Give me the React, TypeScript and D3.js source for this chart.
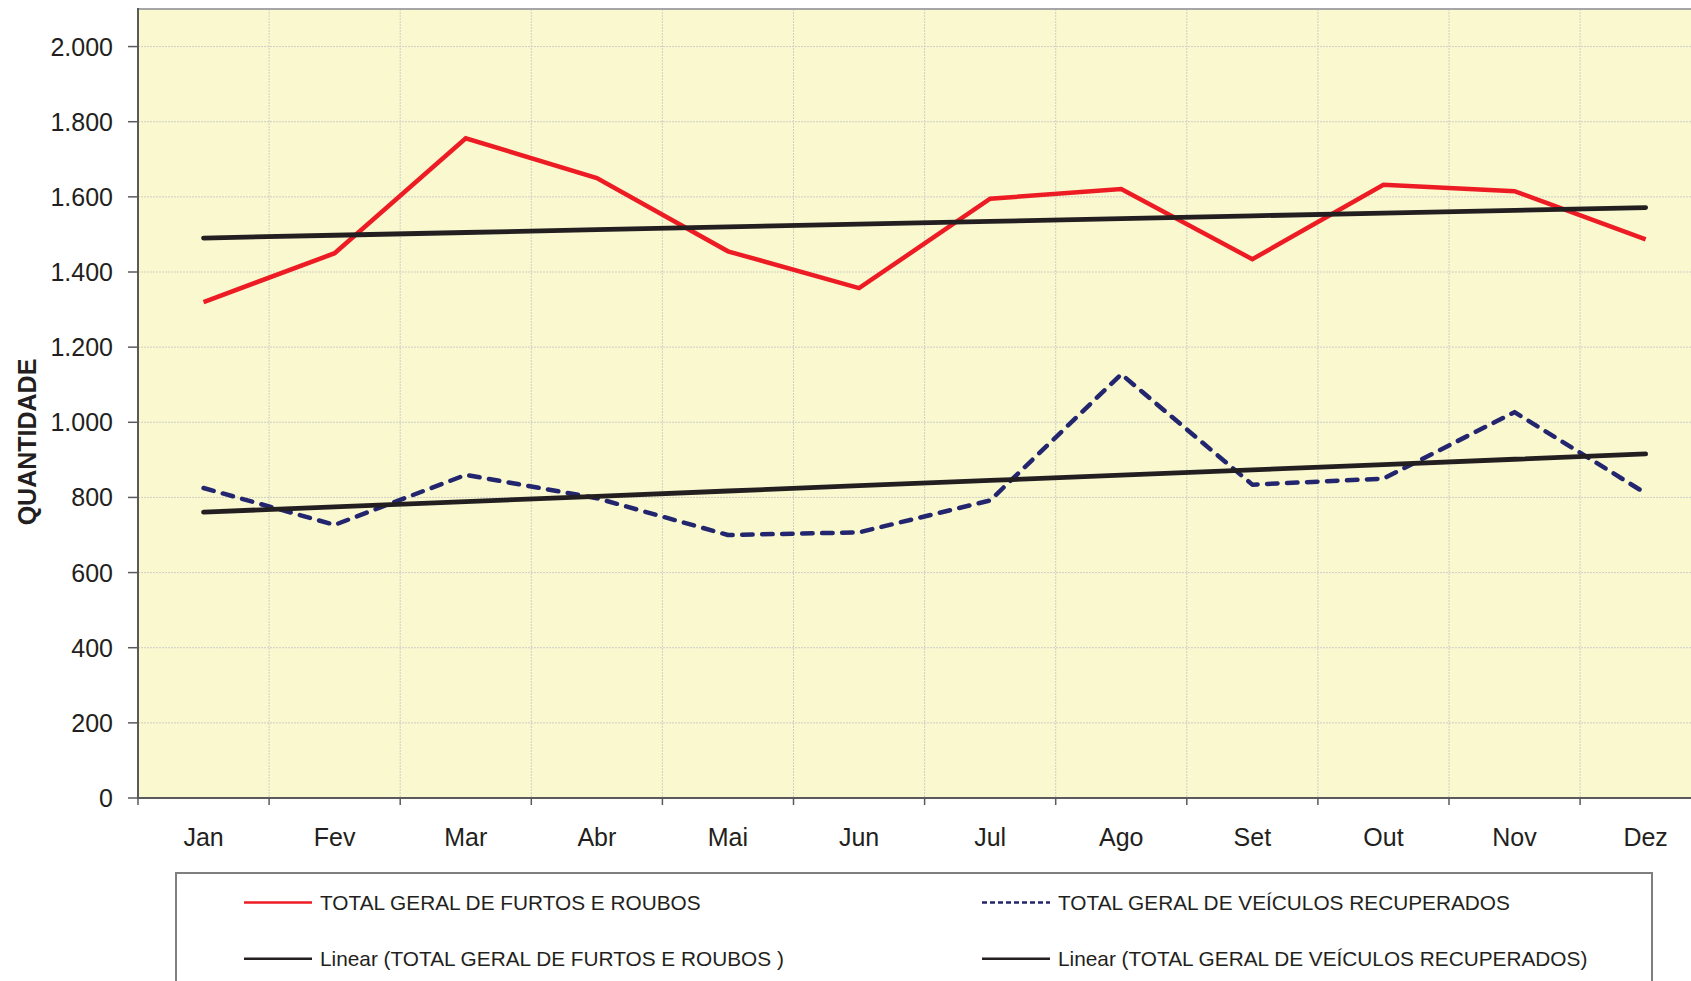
import React from "react";
import * as d3 from "d3";

const months = ["Jan", "Fev", "Mar", "Abr", "Mai", "Jun", "Jul", "Ago", "Set", "Out", "Nov", "Dez"];
const furtosRoubos = [1320, 1450, 1756, 1650, 1455, 1357, 1595, 1621, 1434, 1632, 1615, 1487];
const recuperados = [825, 727, 860, 798, 700, 707, 792, 1128, 834, 850, 1027, 811];
const yTicks = [0, 200, 400, 600, 800, 1000, 1200, 1400, 1600, 1800, 2000];
const legendLabels = [
  "TOTAL GERAL DE FURTOS E ROUBOS",
  "TOTAL GERAL DE VEÍCULOS RECUPERADOS",
  "Linear (TOTAL GERAL DE FURTOS E ROUBOS )",
  "Linear (TOTAL GERAL DE VEÍCULOS RECUPERADOS)",
];
const yTitle = "QUANTIDADE";

const W = 1691;
const H = 981;
const L = 138;
const T = 9;
const B = 798;
const BAND = 131.1;
const R = L + BAND * months.length;

const TEXT = "#231f20";
const RED = "#ed1c24";
const BLUE = "#23266e";
const BLACK = "#231f20";
const FONT = "'Liberation Sans', Arial, sans-serif";

function linearFit(vals: number[]) {
  const n = vals.length;
  const mx = (n - 1) / 2;
  const my = d3.mean(vals) as number;
  let sxy = 0;
  let sxx = 0;
  vals.forEach((v, i) => {
    sxy += (i - mx) * (v - my);
    sxx += (i - mx) * (i - mx);
  });
  const slope = sxy / sxx;
  return vals.map((_, i) => my + slope * (i - mx));
}

export default function App() {
  const x = d3.scaleBand<string>().domain(months).range([L, R]).padding(0);
  const y = d3.scaleLinear().domain([0, 2100]).range([B, T]);
  const cx = (m: string) => (x(m) as number) + x.bandwidth() / 2;

  const line = d3
    .line<number>()
    .x((_, i) => cx(months[i]))
    .y((v) => y(v));

  const trendRed = linearFit(furtosRoubos);
  const trendBlue = linearFit(recuperados);

  const boundaries = months.map((m) => x(m) as number).concat([R]);

  const legendItems = [
    { label: legendLabels[0], x: 244, y: 902.6, color: RED, dash: null },
    { label: legendLabels[1], x: 982, y: 902.6, color: BLUE, dash: "5 3" },
    { label: legendLabels[2], x: 244, y: 958.7, color: BLACK, dash: null },
    { label: legendLabels[3], x: 982, y: 958.7, color: BLACK, dash: null },
  ];

  const grid = "#cfcfc8";

  return (
    <svg
      width={W}
      height={H}
      style={{ position: "absolute", left: 0, top: 0, display: "block", background: "#fff" }}
      fontFamily={FONT}
    >
      <rect x={0} y={0} width={W} height={H} fill="#ffffff" />
      <rect x={L} y={T} width={R - L} height={B - T} fill="#f9f8cf" />
      {yTicks
        .filter((t) => t > 0)
        .map((t) => (
          <line
            key={"hg" + t}
            x1={L}
            x2={R}
            y1={y(t)}
            y2={y(t)}
            stroke={grid}
            strokeWidth={1}
            strokeDasharray="2 1"
          />
        ))}
      {boundaries.slice(1).map((bx, i) => (
        <line
          key={"vg" + i}
          x1={bx}
          x2={bx}
          y1={T}
          y2={B}
          stroke={grid}
          strokeWidth={1}
          strokeDasharray="2 1"
        />
      ))}
      <line x1={L} x2={R} y1={T} y2={T} stroke="#a6a6a6" strokeWidth={2} />
      <line x1={L} x2={L} y1={T - 1} y2={B} stroke="#5a5a5a" strokeWidth={2} />
      <line x1={L - 1} x2={R} y1={B} y2={B} stroke="#5a5a5a" strokeWidth={2} />
      {yTicks.map((t) => (
        <g key={"yt" + t}>
          <line x1={L - 10} x2={L} y1={y(t)} y2={y(t)} stroke="#5a5a5a" strokeWidth={1.5} />
          <text x={113} y={y(t) + 9} textAnchor="end" fontSize={25} fill={TEXT}>
            {d3.format(",")(t).replace(/,/g, ".")}
          </text>
        </g>
      ))}
      {boundaries.map((bx, i) => (
        <line key={"xt" + i} x1={bx} x2={bx} y1={B} y2={B + 7} stroke="#5a5a5a" strokeWidth={1.5} />
      ))}
      {months.map((m) => (
        <text key={"xl" + m} x={cx(m)} y={846} textAnchor="middle" fontSize={25} fill={TEXT}>
          {m}
        </text>
      ))}
      <text
        transform={`translate(36, 442) rotate(-90)`}
        textAnchor="middle"
        fontSize={25}
        fontWeight="bold"
        fill={TEXT}
      >
        {yTitle}
      </text>
      <path d={line(furtosRoubos) || ""} fill="none" stroke={RED} strokeWidth={4.5} strokeLinejoin="miter" />
      <path
        d={line(recuperados) || ""}
        fill="none"
        stroke={BLUE}
        strokeWidth={4.5}
        strokeDasharray="10.5 9.5"
        strokeLinecap="round"
        strokeLinejoin="round"
      />
      <path d={line(trendRed) || ""} fill="none" stroke={BLACK} strokeWidth={4.8} strokeLinecap="round" />
      <path d={line(trendBlue) || ""} fill="none" stroke={BLACK} strokeWidth={4.8} strokeLinecap="round" />
      <rect x={176} y={873} width={1652 - 176} height={140} fill="#ffffff" stroke="#7f7f7f" strokeWidth={2} />
      {legendItems.map((it) => (
        <g key={it.label}>
          <line
            x1={it.x}
            x2={it.x + 68}
            y1={it.y}
            y2={it.y}
            stroke={it.color}
            strokeWidth={2.5}
            strokeDasharray={it.dash || undefined}
          />
          <text x={it.x + 76} y={it.y + 7.4} fontSize={20.8} fill={TEXT}>
            {it.label}
          </text>
        </g>
      ))}
    </svg>
  );
}
